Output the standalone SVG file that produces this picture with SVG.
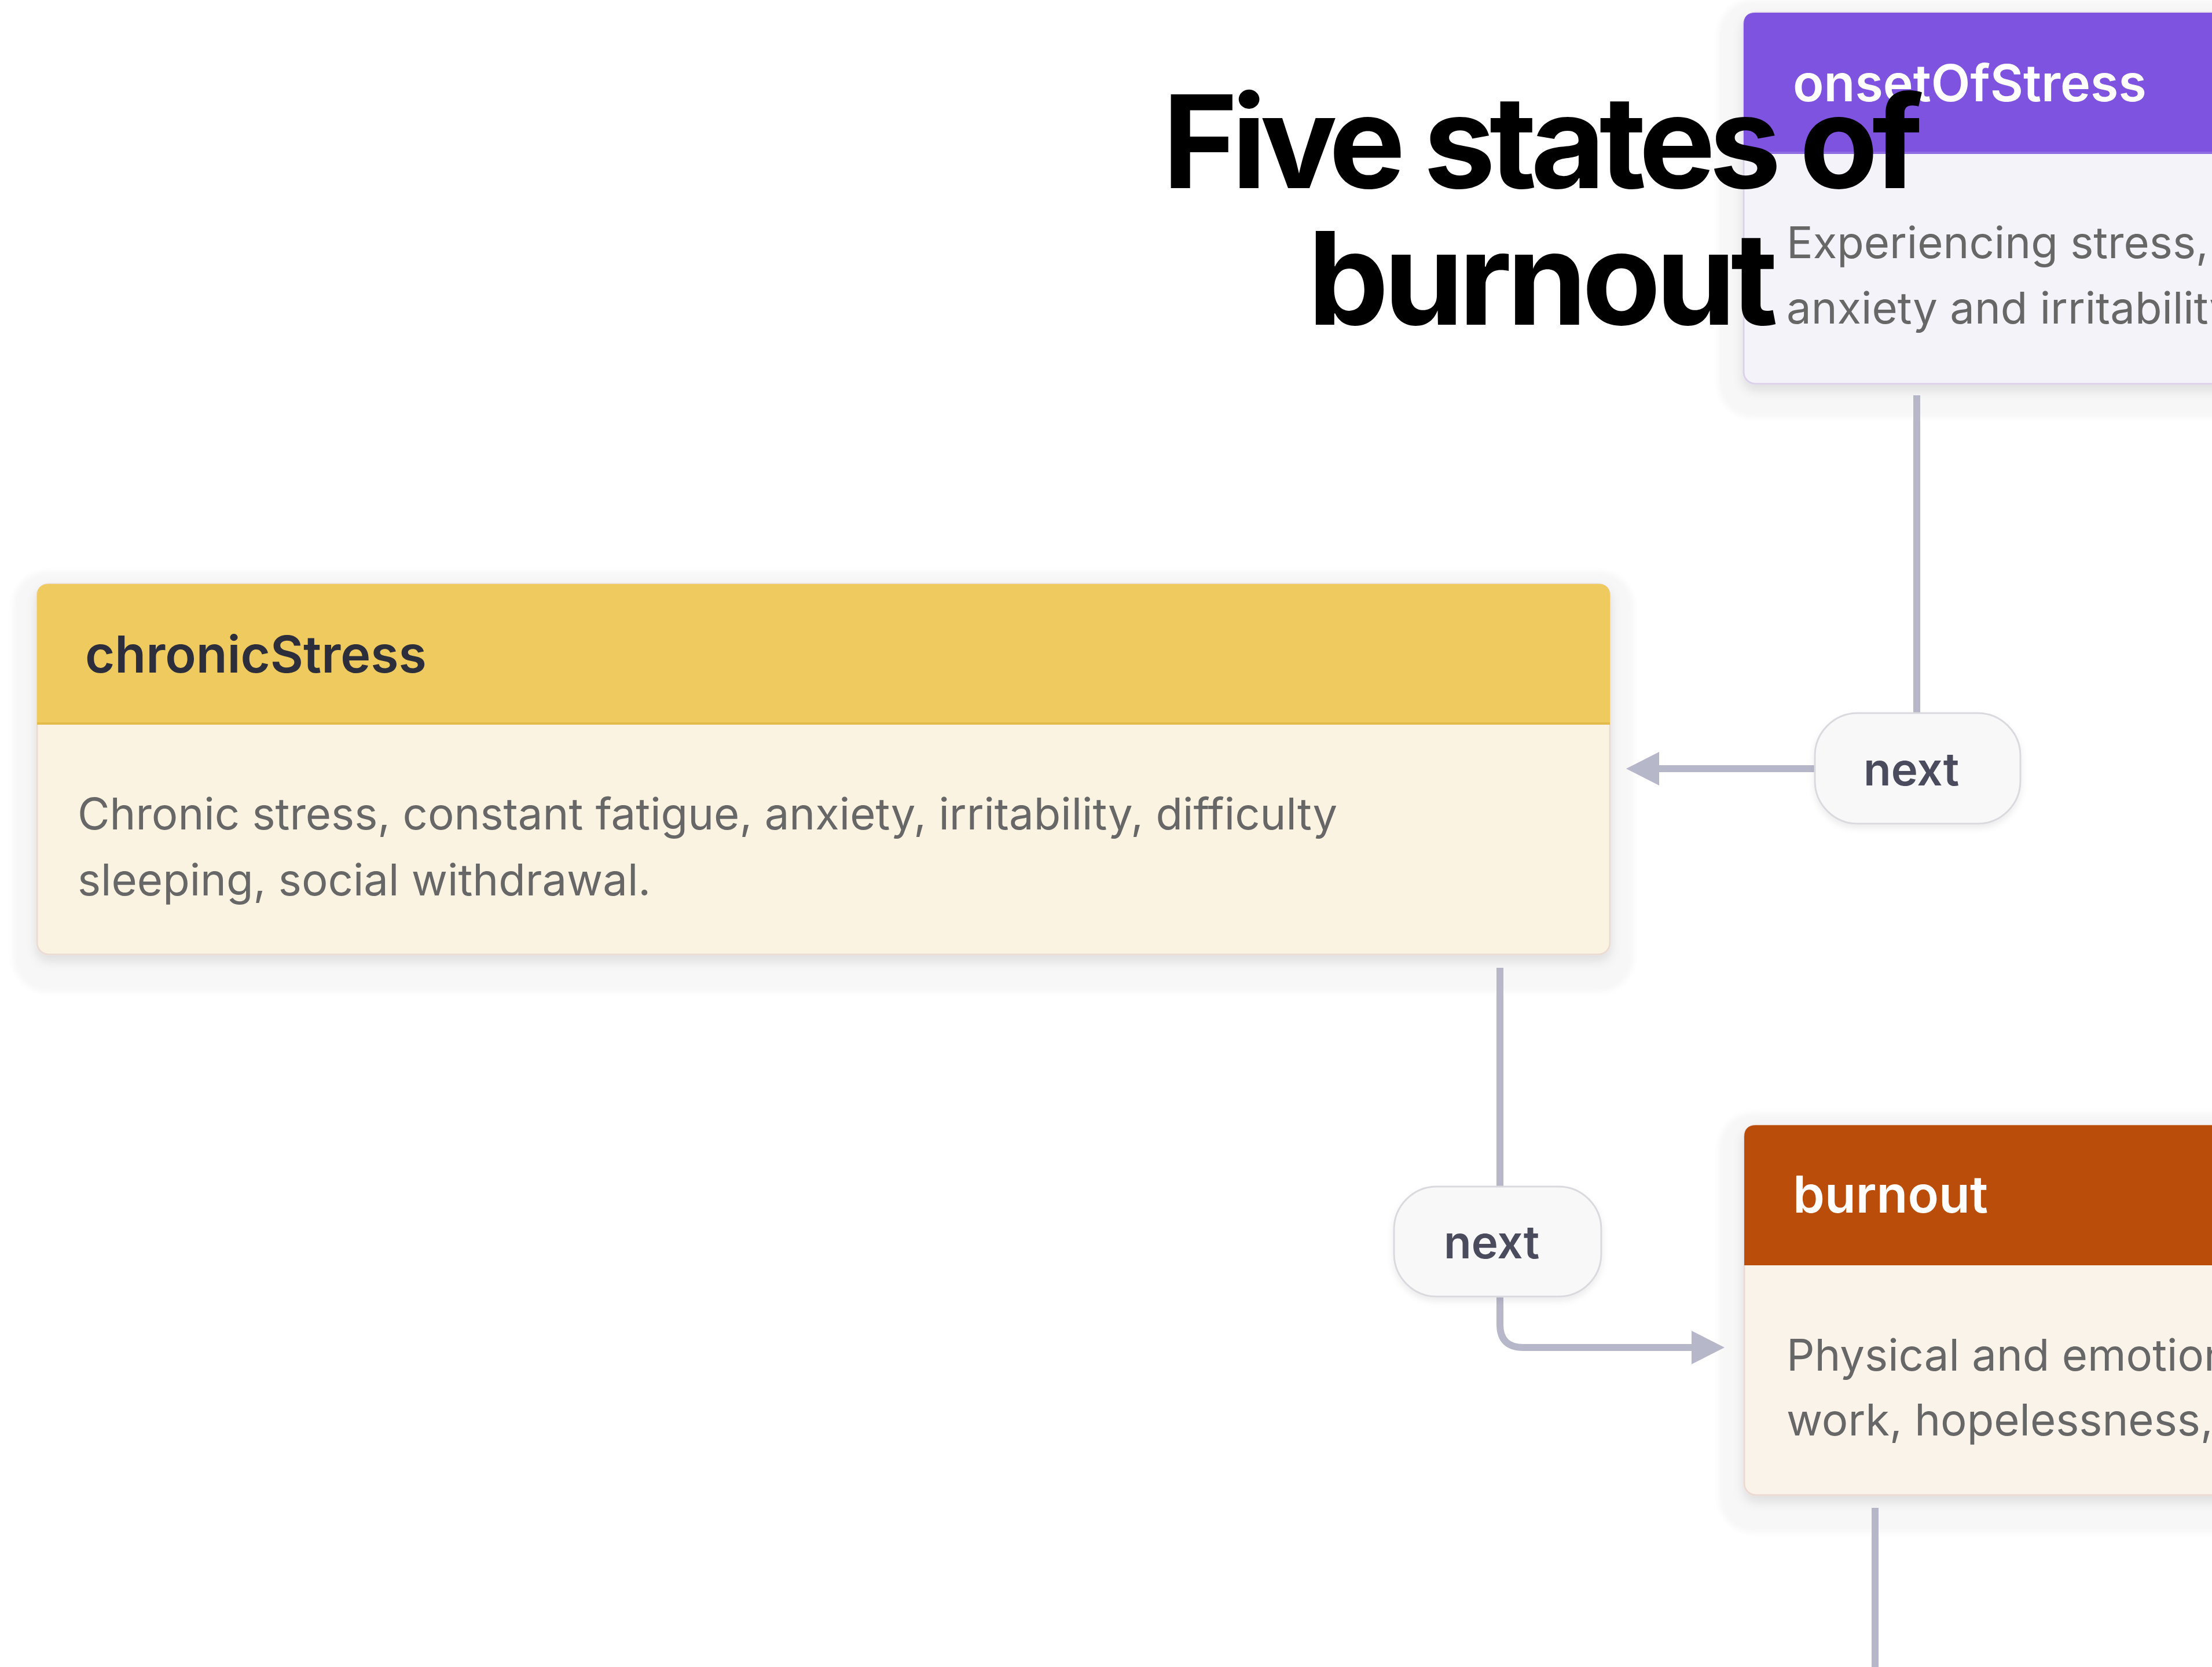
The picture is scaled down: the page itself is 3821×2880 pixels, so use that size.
<svg xmlns="http://www.w3.org/2000/svg" width="3821" height="2880" viewBox="0 0 3821 2880">
  <defs>
    <style>
      .halo { fill: #f7f7f8; }
      .title { font-family: Inter, "Liberation Sans", sans-serif; font-weight: 700; font-size: 222px; fill: #000; }
      .head { font-family: Inter, "Liberation Sans", sans-serif; font-weight: 600; font-size: 88px; }
      .body { font-family: Inter, "Liberation Sans", sans-serif; font-weight: 400; font-size: 76px; fill: #676767; }
      .edge { fill: none; stroke: #b6b8ca; stroke-width: 12; }
      .pill { fill: #f8f8f9; stroke: #d9d9de; stroke-width: 3; }
      .pill-text { font-family: Inter, "Liberation Sans", sans-serif; font-weight: 600; font-size: 78px; fill: #4a4c5d; }
    </style>
    <filter id="haloBlur" x="-5%" y="-10%" width="110%" height="120%">
      <feGaussianBlur stdDeviation="5"/>
    </filter>
    <filter id="cardShadow" x="-5%" y="-10%" width="110%" height="125%">
      <feDropShadow dx="0" dy="10" stdDeviation="9" flood-color="#000" flood-opacity="0.10"/>
    </filter>
    <filter id="pillShadow" x="-20%" y="-20%" width="140%" height="160%">
      <feDropShadow dx="0" dy="6" stdDeviation="6" flood-color="#000" flood-opacity="0.08"/>
    </filter>
    <marker id="arrow" markerUnits="userSpaceOnUse" viewBox="0 0 57 58" refX="0" refY="29" markerWidth="57" markerHeight="58" orient="auto">
      <path d="M0,0 L57,29 L0,58 Z" fill="#b6b8ca"/>
    </marker>
  </defs>

  <rect width="3821" height="2880" fill="#ffffff"/>

  <!-- node halos -->
  <g id="halos">
    <rect class="halo" x="2968" y="0" width="1000" height="722" rx="60" filter="url(#haloBlur)"/>
    <rect class="halo" x="22" y="987" width="2800" height="727" rx="60" filter="url(#haloBlur)"/>
    <rect class="halo" x="2969" y="1922" width="1000" height="726" rx="60" filter="url(#haloBlur)"/>
  </g>

  <!-- connectors -->
  <g id="connectors">
    <path class="edge" d="M3311,683 V1234"/>
    <path class="edge" d="M3135,1328 H2866" marker-end="url(#arrow)"/>
    <path class="edge" d="M2591,1672 V2052"/>
    <path class="edge" d="M2591,2238 V2288 Q2591,2328 2631,2328 H2922" marker-end="url(#arrow)"/>
    <path class="edge" d="M3239,2605 V2880"/>
  </g>

  <!-- state: onsetOfStress -->
  <g id="onsetOfStress">
    <rect x="3012" y="22" width="1000" height="641" rx="20" fill="#f4f3fa" stroke="#dcd1ea" stroke-width="3" filter="url(#cardShadow)"/>
    <path d="M3012,264 V42 Q3012,22 3032,22 H4012 V264 Z" fill="#7e53e0"/>
    <rect x="3012" y="262" width="1000" height="4" fill="#8f6be4"/>
    <text class="head" x="3097" y="175" fill="#ffffff">onsetOfStress</text>
    <text class="body" x="3086" y="446">Experiencing stress,</text>
    <text class="body" x="3086" y="559">anxiety and irritability</text>
  </g>

  <!-- state: chronicStress -->
  <g id="chronicStress">
    <rect x="64" y="1009" width="2717" height="640" rx="20" fill="#faf3e2" stroke="#eadcd3" stroke-width="3" filter="url(#cardShadow)"/>
    <path d="M64,1251 V1029 Q64,1009 84,1009 H2761 Q2781,1009 2781,1029 V1251 Z" fill="#efca5e"/>
    <rect x="64" y="1248" width="2717" height="4" fill="#e3bb4a"/>
    <text class="head" x="147" y="1162" fill="#2c2e3b">chronicStress</text>
    <text class="body" x="134" y="1433">Chronic stress, constant fatigue, anxiety, irritability, difficulty</text>
    <text class="body" x="134" y="1547">sleeping, social withdrawal.</text>
  </g>

  <!-- state: burnout -->
  <g id="burnout">
    <rect x="3013" y="1944" width="1000" height="639" rx="20" fill="#faf3ea" stroke="#ecd9d1" stroke-width="3" filter="url(#cardShadow)"/>
    <path d="M3013,2186 V1964 Q3013,1944 3033,1944 H4013 V2186 Z" fill="#bb4d0b"/>
    <text class="head" x="3097" y="2095" fill="#ffffff">burnout</text>
    <text class="body" x="3086" y="2368">Physical and emotion</text>
    <text class="body" x="3086" y="2480">work, hopelessness,</text>
  </g>

  <!-- transition labels -->
  <g id="label-next-1">
    <rect class="pill" x="3135" y="1232" width="355" height="191" rx="74" filter="url(#pillShadow)"/>
    <text class="pill-text" x="3219" y="1357">next</text>
  </g>
  <g id="label-next-2">
    <rect class="pill" x="2408" y="2050" width="358" height="190" rx="74" filter="url(#pillShadow)"/>
    <text class="pill-text" x="2494" y="2174">next</text>
  </g>

  <!-- heading -->
  <g id="heading">
    <text class="title" x="2665" y="325" text-anchor="middle" textLength="1314" lengthAdjust="spacing">Five states of</text>
    <text class="title" x="2665" y="561" text-anchor="middle" textLength="812" lengthAdjust="spacing">burnout</text>
  </g>
</svg>
